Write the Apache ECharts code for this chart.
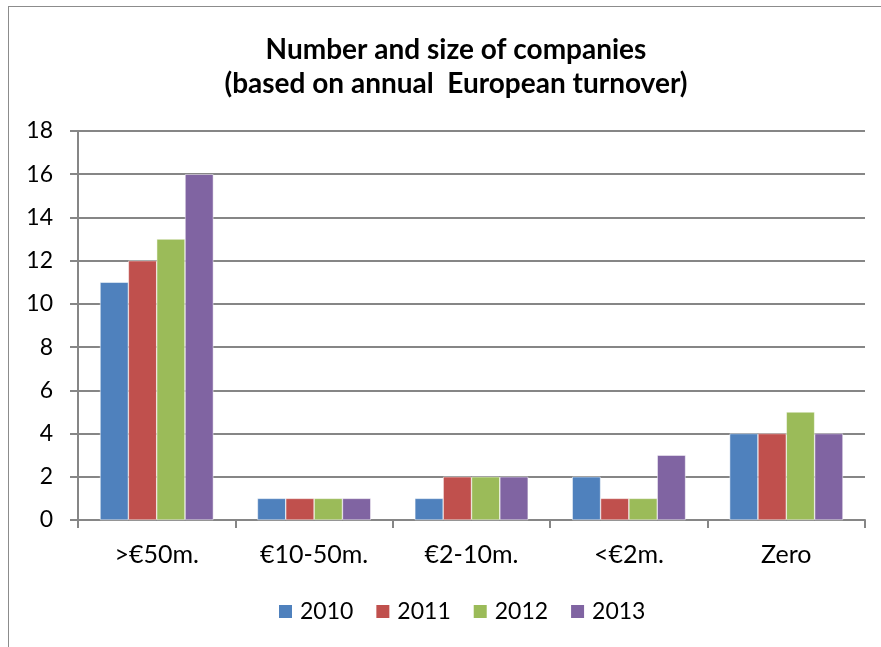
<!DOCTYPE html>
<html>
<head>
<meta charset="utf-8">
<script src="https://cdn.jsdelivr.net/npm/echarts@6/dist/echarts.min.js"></script>
<style>
  html, body { margin: 0; padding: 0; background: #fff; }
  #frame { position: absolute; left: 8px; top: 6px; width: 900px; height: 700px;
           border: 1px solid #8c8c8c; box-sizing: border-box; }
  #chart { position: absolute; left: 0; top: 0; width: 881px; height: 647px; }
</style>
</head>
<body>
<div id="frame"></div>
<div id="chart"></div>
<script>
// Companies grouped by annual European turnover band
const categories = ['>€50m.', '€10-50m.', '€2-10m.', '<€2m.', 'Zero'];
const years = ['2010', '2011', '2012', '2013'];
const values2010 = [11, 1, 1, 2, 4];
const values2011 = [12, 1, 2, 1, 4];
const values2012 = [13, 1, 2, 1, 5];
const values2013 = [16, 1, 2, 3, 4];
const yTicks = [0, 2, 4, 6, 8, 10, 12, 14, 16, 18];

const colors = ['#4F81BD', '#C0504D', '#9BBB59', '#8064A2'];
const seriesData = [values2010, values2011, values2012, values2013];
const font = 'Lato, "Open Sans", sans-serif';

const chart = echarts.init(document.getElementById('chart'));
chart.setOption({
  animation: false,
  color: colors,
  title: {
    text: 'Number and size of companies\n(based on annual  European turnover)',
    left: 451, top: 28, textAlign: 'center',
    textStyle: { fontFamily: font, fontWeight: 'bold', fontSize: 28, lineHeight: 34, color: '#000' }
  },
  legend: {
    bottom: 19, left: 272,
    itemWidth: 15, itemHeight: 15, itemGap: 21,
    icon: 'rect',
    textStyle: { fontFamily: font, fontSize: 23, color: '#000', padding: [0, 0, 0, 2] },
    data: years
  },
  grid: { left: 78, right: 16, top: 131, bottom: 127, containLabel: false },
  xAxis: {
    type: 'category',
    data: categories,
    axisLine: { lineStyle: { color: '#868686', width: 2 } },
    axisTick: { show: true, length: 8, lineStyle: { color: '#868686', width: 2 } },
    axisLabel: { fontFamily: font, fontSize: 25, color: '#000', margin: 22 }
  },
  yAxis: {
    type: 'value',
    min: yTicks[0], max: yTicks[yTicks.length - 1], interval: 2,
    axisLine: { show: true, lineStyle: { color: '#868686', width: 2 } },
    axisTick: { show: true, length: 8, lineStyle: { color: '#868686', width: 2 } },
    splitLine: { lineStyle: { color: '#868686', width: 2 } },
    axisLabel: { fontFamily: font, fontSize: 23, color: '#000', margin: 25 }
  },
  series: years.map((y, i) => ({
    name: y,
    type: 'bar',
    data: seriesData[i],
    barGap: '0%',
    barCategoryGap: '28%',
    itemStyle: { color: colors[i], borderColor: '#ffffff', borderWidth: 0.5 }
  }))
});
</script>
</body>
</html>
